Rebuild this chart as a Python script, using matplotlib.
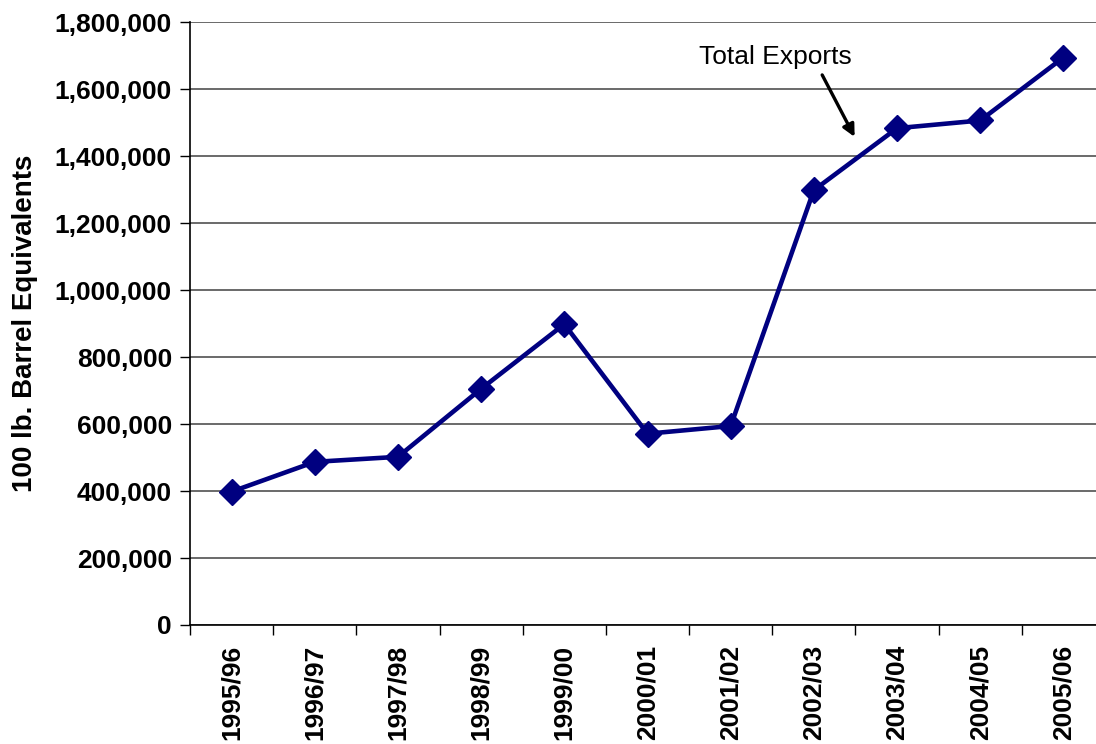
import matplotlib
matplotlib.use("Agg")
import matplotlib.pyplot as plt
from matplotlib.ticker import FuncFormatter

categories = ["1995/96", "1996/97", "1997/98", "1998/99", "1999/00", "2000/01",
              "2001/02", "2002/03", "2003/04", "2004/05", "2005/06"]
exports = [398000, 487000, 502000, 705000, 898000, 571000,
           594000, 1298000, 1483000, 1506000, 1694000]
yticks = [0, 200000, 400000, 600000, 800000, 1000000, 1200000, 1400000, 1600000, 1800000]

plt.rcParams['font.family'] = ['Liberation Sans', 'DejaVu Sans']

fig = plt.figure(figsize=(10.96, 7.44), dpi=100)
W, H = 1096, 744
left, right, top, bottom = 190, 1105, 22, 625
ax = fig.add_axes([left / W, 1 - bottom / H, (right - left) / W, (bottom - top) / H])

x = [i + 0.5 for i in range(len(categories))]
ax.plot(x, exports, color='#000080', lw=3.3, marker='D', markersize=13.5,
        markeredgecolor='#000080', zorder=3, clip_on=False)

ax.set_xlim(0, len(categories))
ax.set_ylim(0, 1800000)
ax.set_yticks(yticks)
ax.yaxis.set_major_formatter(FuncFormatter(lambda v, p: f"{int(v):,}"))
ax.set_xticks(range(len(categories) + 1))
ax.set_xticklabels([])
ax.set_xticks(x, minor=True)
ax.set_xticklabels(categories, minor=True, rotation=90, fontsize=19, fontweight='bold')
ax.tick_params(axis='x', which='minor', length=0, pad=14)
ax.tick_params(axis='x', which='major', length=7, width=1, color='#000000', direction='out')
ax.tick_params(axis='y', length=7, width=1, labelsize=19, pad=6)
for lab in ax.get_yticklabels():
    lab.set_fontweight('bold')

ax.grid(axis='y', color='#505050', lw=1.2)
ax.set_axisbelow(True)
for s in ['top', 'right']:
    ax.spines[s].set_visible(False)
ax.spines['left'].set_linewidth(1.2)
ax.spines['bottom'].set_linewidth(1.2)

ax.set_ylabel("100 lb. Barrel Equivalents", fontsize=20, fontweight='bold', labelpad=12)

ax.text(7.04, 1695000, "Total Exports", fontsize=19, ha='center', va='center')
ax.annotate("", xy=(7.99, 1457000), xytext=(7.60, 1642000),
            arrowprops=dict(arrowstyle='-|>', color='black', lw=2.4,
                            shrinkA=0, shrinkB=0, mutation_scale=18))

fig.savefig("out.png", dpi=100)
